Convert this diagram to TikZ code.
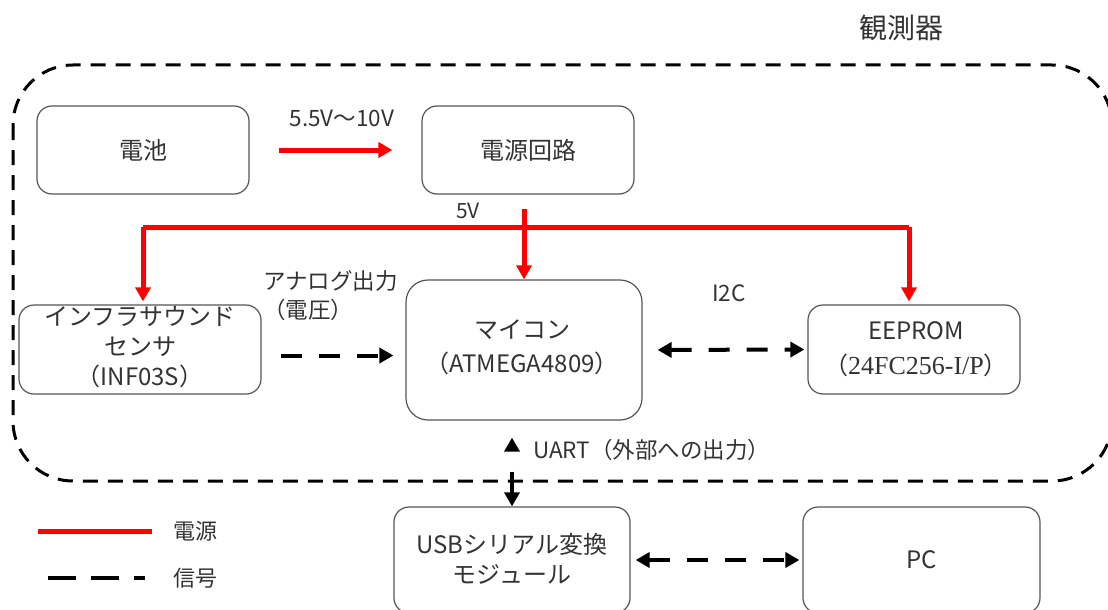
\documentclass[tikz,border=0pt]{standalone}
\usepackage{fontspec}
\setmainfont{Noto Sans CJK JP}
\newfontfamily\serifl{Liberation Serif}
\usetikzlibrary{arrows.meta}
\definecolor{txt}{HTML}{333333}
\definecolor{bord}{HTML}{555555}
\definecolor{pwr}{HTML}{FF0000}
\tikzset{
  blk/.style={draw=bord, line width=1.2pt, rounded corners=15pt, minimum width=#1, text=txt,
     font=\fontsize{24}{30}\selectfont, align=center, inner sep=0pt},
  btxt/.style={text=txt, align=center, inner sep=0pt},
  pow/.style={draw=pwr, line width=5pt, -{Triangle[width=15pt,length=14pt]}},
  sig/.style={draw=black, line width=4pt, dash pattern=on 21pt off 17pt, -{Triangle[width=15pt,length=14pt]}},
  sigboth/.style={sig, {Triangle[width=15pt,length=14pt]}-{Triangle[width=15pt,length=14pt]}},
  lbl/.style={text=txt, font=\fontsize{22.5}{29}\selectfont, inner sep=0pt},
  boundary/.style={draw=black, line width=3pt, dash pattern=on 15pt off 10pt, rounded corners=60pt}
}
\begin{document}
\begin{tikzpicture}[x=1pt,y=-1pt]
\useasboundingbox (0,0) rectangle (1108,610);
% boundary
\draw[boundary] (13,65) rectangle (1112,481);
\node[lbl, font=\fontsize{28}{32}\selectfont] (obs) at (901,28) {観測器};
% blocks
\node[blk=212pt, minimum height=88pt] (bat) at (143,150) {電池};
\node[blk=212pt, minimum height=88pt] (psu) at (528,150) {電源回路};
\node[blk=242pt, minimum height=89pt] (sen) at (140,349.5) {};
\node[btxt, font=\fontsize{24}{30}\selectfont] (sentxt) at (140,347) {インフラサウンド\\センサ\\（INF03S）};
\node[blk=236pt, minimum height=140pt, rounded corners=22pt] (mcu) at (524,350) {};
\node[btxt, font=\fontsize{24}{34}\selectfont] (mcutxt) at (522,347) {マイコン\\（ATMEGA4809）};
\node[blk=212pt, minimum height=89pt] (eep) at (914,349.5) {};
\node[btxt, font=\fontsize{24}{35}\selectfont] (eeptxt) at (916,349) {EEPROM\\（{\serifl\fontsize{26}{35}\selectfont 24FC256-I/P}）};
\node[blk=236pt, minimum height=106pt] (usb) at (512,560) {};
\node[btxt, font=\fontsize{24}{30}\selectfont] (usbtxt) at (512,559) {USBシリアル変換\\モジュール};
\node[blk=237pt, minimum height=106pt] (pc) at (921.5,560) {PC};
% labels
\node[lbl] (l55) at (342,118) {5.5V～10V};
\node[lbl, font=\fontsize{21}{26}\selectfont] (l5) at (468,211) {5V};
\node[lbl, anchor=west, align=left] (lana) at (263,296) {アナログ出力\\（電圧）};
\node[lbl] (li2c) at (729,293) {I2C};
\node[lbl, anchor=west] (luart) at (533,450) {UART（外部への出力）};
% power
\draw[pow, shorten <=29pt, shorten >=29pt] (bat.east) -- (psu.west);
\coordinate (j) at (524,227);
\draw[pow, shorten <=14pt] ([xshift=-4pt]psu.south) -- (mcu.north);
\draw[pow, -] (j) -- (909,227);
\draw[pow, -] (j) -- (143,227);
\coordinate (jl) at (143,227);
\coordinate (jr) at (909,227);
\draw[pow, shorten >=3pt] (jl) -- (jl |- sen.north);
\draw[pow, shorten >=3pt] (jr) -- (jr |- eep.north);
% signals
\draw[sig, shorten <=19pt, shorten >=12pt] ([yshift=-6pt]sen.east) -- ([yshift=-6pt]sen.east -| mcu.west);
\draw[sigboth, shorten <=15pt, shorten >=3pt] (mcu.east) -- (eep.west);
\draw[sigboth, shorten <=5pt, shorten >=3pt] (usb.east) -- (pc.west);
\draw[sigboth, dash pattern=on 27pt off 21pt, dash phase=27pt, shorten <=17pt] ([xshift=-12pt]mcu.south) -- (usb.north);
% legend
\coordinate (lg1a) at (38,531); \coordinate (lg1b) at (152,531);
\coordinate (lg2a) at (48,578); \coordinate (lg2b) at (145,578);
\draw[draw=pwr, line width=5pt] (lg1a) -- (lg1b);
\draw[draw=black, line width=4.5pt, dash pattern=on 28pt off 15pt] (lg2a) -- (lg2b);
\node[lbl, font=\fontsize{22}{26}\selectfont] (lgp) at (195,531) {電源};
\node[lbl, font=\fontsize{22}{26}\selectfont] (lgs) at (195,578) {信号};
\end{tikzpicture}
\end{document}
